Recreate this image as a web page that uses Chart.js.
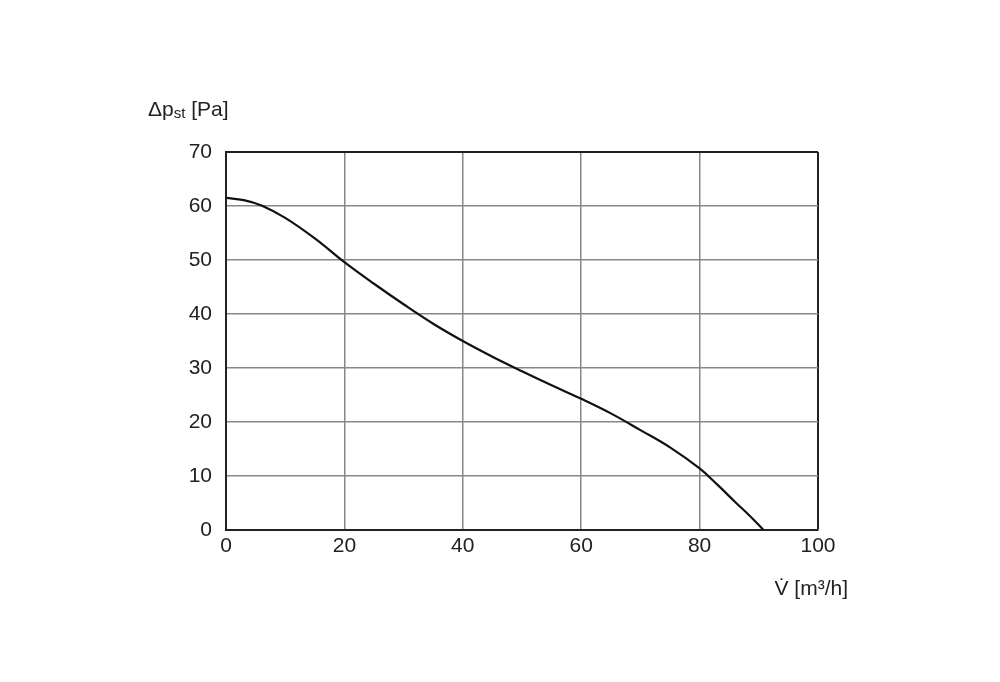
<!DOCTYPE html>
<html>
<head>
<meta charset="utf-8">
<script src="https://cdn.jsdelivr.net/npm/chart.js@4"></script>
<style>
  body { margin: 0; background: #fff; }
  #wrap { width: 1000px; height: 682px; }
</style>
</head>
<body>
<div id="wrap"><canvas id="grafico"></canvas></div>
<script>
// Curva de pressão estática x vazão
const vazao = [0, 3, 6, 10, 15, 20, 25, 30, 35, 40, 45, 50, 55, 60, 65, 70, 75, 80, 83, 86, 88.5, 90.8];
const pressao = [61.5, 61.1, 60.1, 57.8, 54, 49.6, 45.6, 41.8, 38.2, 35, 32.1, 29.4, 26.8, 24.3, 21.6, 18.5, 15.3, 11.4, 8.4, 5.2, 2.6, 0];

const fonte = "Liberation Sans, Arial, sans-serif";

// Títulos dos eixos desenhados à mão (subscrito e ponto sobre o V)
const titulos = {
  id: "titulos",
  afterDraw(chart) {
    const c = chart.ctx;
    c.save();
    c.fillStyle = "#222";
    c.textBaseline = "alphabetic";
    c.font = "21px " + fonte;
    c.fillText("Δp", 148, 116);
    let w = c.measureText("Δp").width;
    c.font = "15px " + fonte;
    c.fillText("st", 148 + w, 118);
    let w2 = c.measureText("st").width;
    c.font = "21px " + fonte;
    c.fillText(" [Pa]", 148 + w + w2, 116);
    c.textAlign = "right";
    c.fillText("V̇ [m³/h]", 848, 595);
    c.restore();
  }
};

new Chart(document.getElementById("grafico"), {
  type: "line",
  data: {
    datasets: [{
      data: vazao.map((x, i) => ({ x: x, y: pressao[i] })),
      borderColor: "#111",
      borderWidth: 2.2,
      pointRadius: 0,
      tension: 0.4,
      fill: false
    }]
  },
  options: {
    responsive: true,
    maintainAspectRatio: false,
    animation: false,
    layout: { padding: { top: 152, right: 182, left: 0, bottom: 0 } },
    plugins: { legend: { display: false }, tooltip: { enabled: false } },
    scales: {
      x: {
        type: "linear", min: 0, max: 100,
        afterFit: s => { s.height = 152; },
        ticks: { stepSize: 20, color: "#222", font: { size: 21, family: fonte }, padding: 4 },
        grid: {
          color: ctx => ctx.tick && ctx.tick.value === 100 ? "#222" : "#888",
          lineWidth: ctx => ctx.tick && ctx.tick.value === 100 ? 2 : 1.5,
          drawTicks: false
        },
        border: { color: "#222", width: 2 }
      },
      y: {
        min: 0, max: 70,
        afterFit: s => { s.width = 226; },
        ticks: { stepSize: 10, color: "#222", font: { size: 21, family: fonte }, padding: 14 },
        grid: {
          color: ctx => ctx.tick && ctx.tick.value === 70 ? "#222" : "#888",
          lineWidth: ctx => ctx.tick && ctx.tick.value === 70 ? 2 : 1.5,
          drawTicks: false
        },
        border: { color: "#222", width: 2 }
      }
    }
  },
  plugins: [titulos]
});
</script>
</body>
</html>
